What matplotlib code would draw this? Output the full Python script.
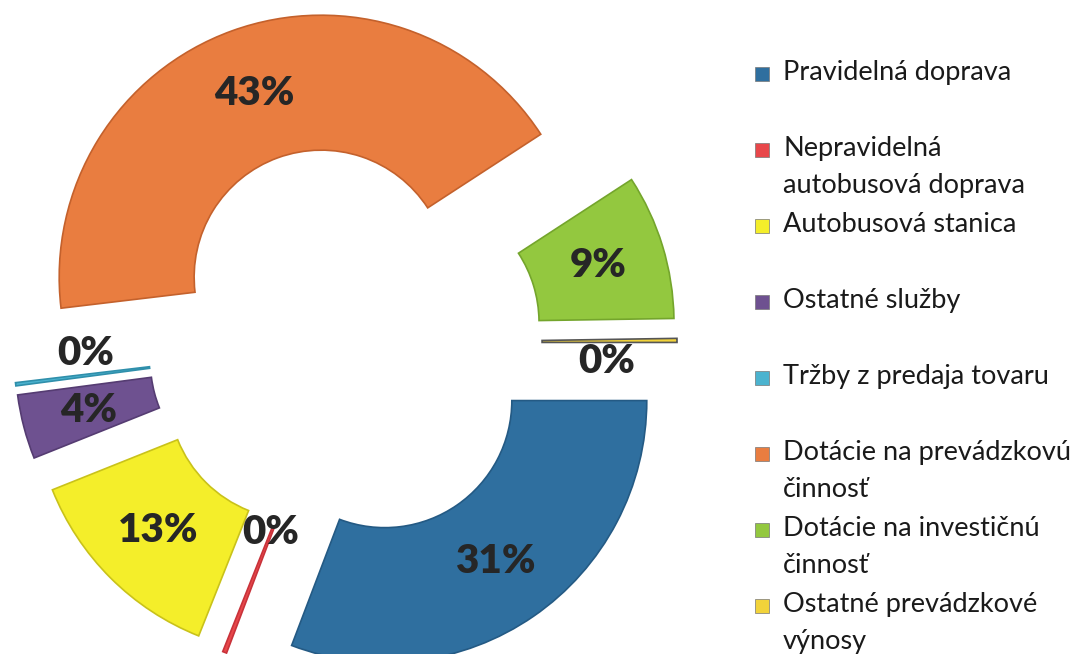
import numpy as np
import matplotlib.pyplot as plt
from matplotlib.patches import Rectangle

# data (shares in %)
categories = ['Pravidelná doprava', 'Nepravidelná\nautobusová doprava', 'Autobusová stanica',
              'Ostatné služby', 'Tržby z predaja tovaru', 'Dotácie na prevádzkovú\nčinnosť',
              'Dotácie na investičnú\nčinnosť', 'Ostatné prevádzkové\nvýnosy']
shares = [31.0, 0.25, 13.0, 4.0, 0.2, 43.0, 9.0, 0.25]
pct_labels = ['31%', '0%', '13%', '4%', '0%', '43%', '9%', '0%']

colors = ['#2f6f9f', '#e8474a', '#f4ee2a', '#6e5190', '#4bb3cf', '#e97d40', '#93c83f', '#f2d33a']
edges = ['#245a84', '#c8323a', '#c9c21a', '#553c72', '#2f8fab', '#c4612c', '#74a52c', '#555555']

plt.rcParams['font.family'] = ['Lato', 'DejaVu Sans']

fig = plt.figure(figsize=(10.75, 6.54), dpi=100)
ax = fig.add_axes([0, 0, 1, 1])

wedges, _ = ax.pie(shares, colors=colors, startangle=0, counterclock=False,
                   radius=1.0, explode=[0.267] * len(shares),
                   wedgeprops=dict(width=0.515, linewidth=1.2))
for w, ec in zip(wedges, edges):
    w.set_edgecolor(ec)

# percentage labels; tiny slices get their label nudged like in the original
nudge = {1: (0.40, -0.04, -0.10), 4: (0.86, 0.13, 0.10), 7: (0.84, -0.11, -0.08)}
for i, (w, lab) in enumerate(zip(wedges, pct_labels)):
    ang = np.deg2rad((w.theta1 + w.theta2) / 2)
    d, dx, dy = nudge.get(i, (0.744, 0.0, 0.0))
    cx, cy = w.center
    ax.text(cx + d * np.cos(ang) + dx, cy + d * np.sin(ang) + dy, lab,
            ha='center', va='center', fontsize=29, fontweight='heavy', color='#262626')

ax.set_xlim(-1.317, 2.786)
ax.set_ylim(-1.187, 1.309)
ax.set_aspect('equal')
ax.axis('off')

# legend drawn by hand: every entry takes two text lines
top = 1 - 74 / 654
step = 76 / 654
for i, (name, col) in enumerate(zip(categories, colors)):
    y = top - i * step
    fig.add_artist(Rectangle((755 / 1075, y - 7 / 654), 14 / 1075, 14 / 654,
                             transform=fig.transFigure, facecolor=col, edgecolor='#777777', lw=0.5))
    fig.text(783 / 1075, y + 14 / 654, name, ha='left', va='top', fontsize=19.5,
             color='#1a1a1a', linespacing=1.6)

fig.savefig('out.png', dpi=100)
